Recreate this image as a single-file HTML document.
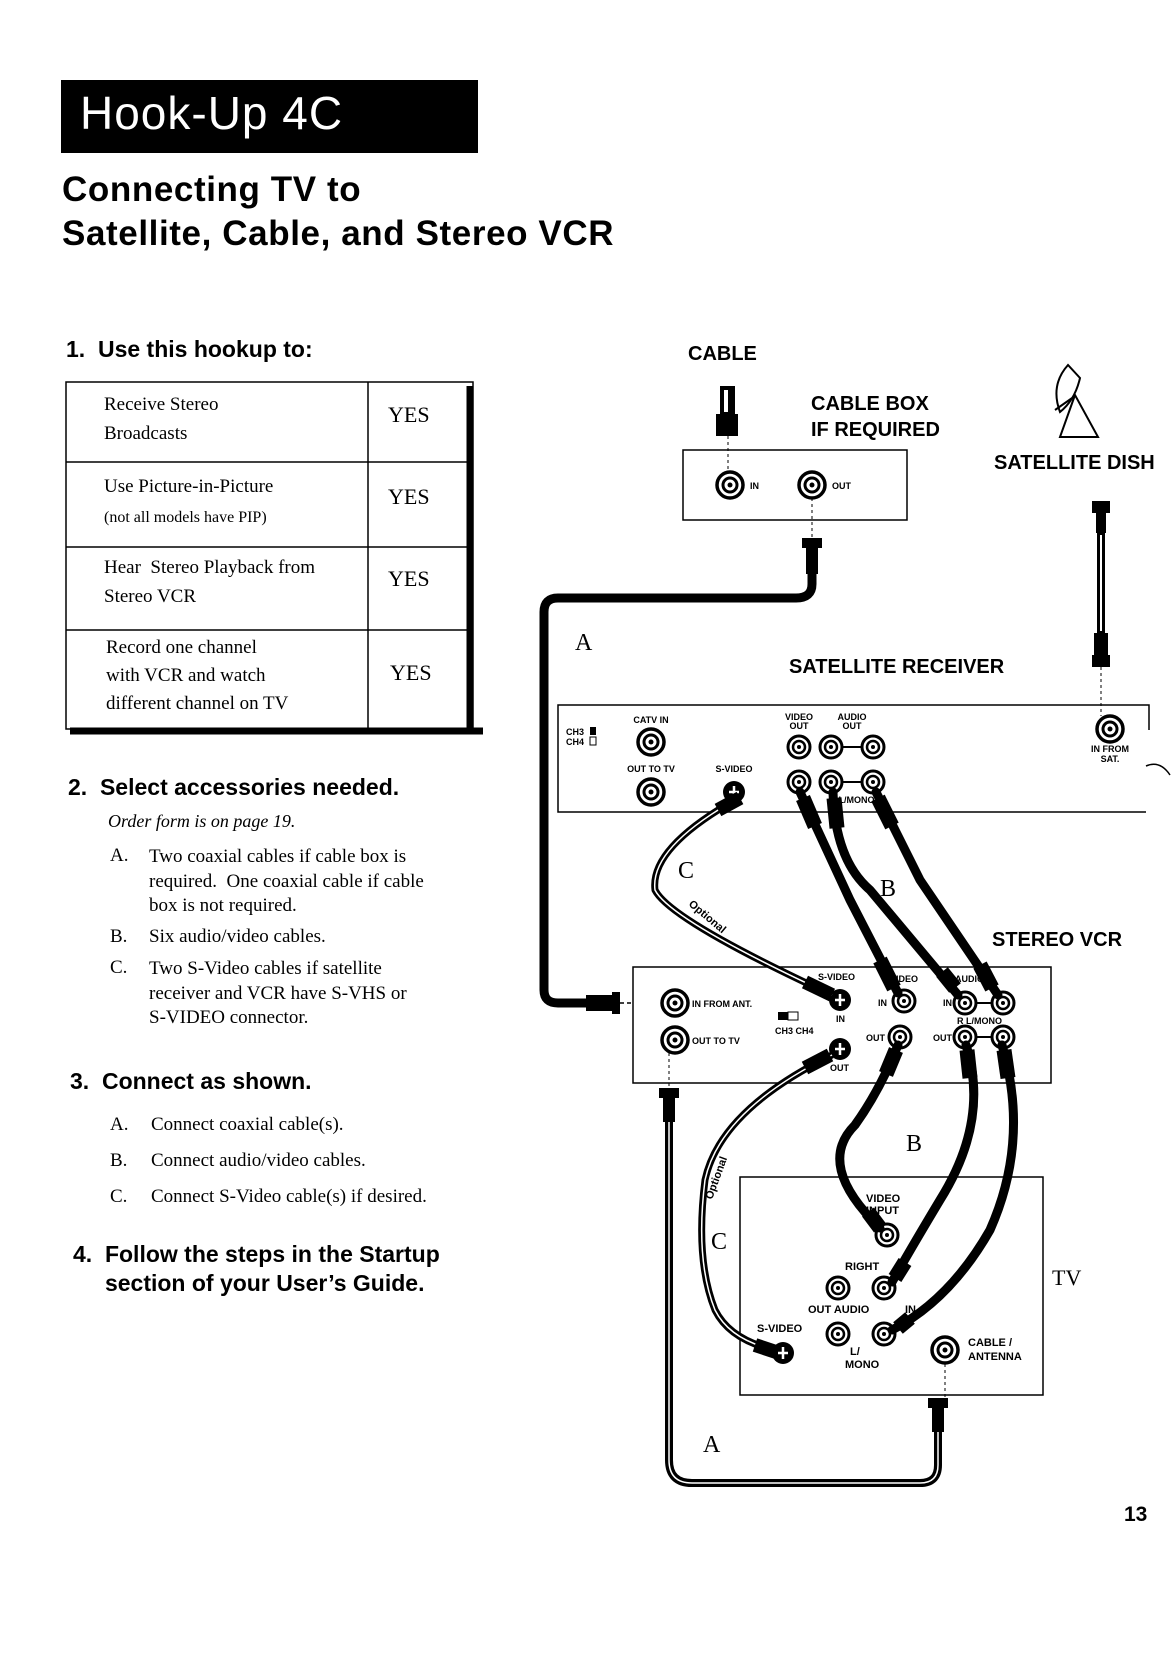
<!DOCTYPE html>
<html><head><meta charset="utf-8"><style>
html,body{margin:0;padding:0;background:#fff}
body{width:1174px;height:1672px;position:relative;overflow:hidden;font-family:"Liberation Sans",sans-serif;color:#000}
.a{position:absolute;white-space:nowrap}
.h{font-weight:bold}
.s{font-family:"Liberation Serif",serif;font-size:19px}
</style></head><body>
<div class="a" style="left:61px;top:80px;width:417px;height:73px;background:#000"></div>
<div class="a" style="left:80px;top:86px;color:#fff;font-size:46px;letter-spacing:1px">Hook-Up 4C</div>
<div class="a h" style="left:62px;top:168px;font-size:35px;line-height:44px;letter-spacing:0.6px">Connecting TV to<br>Satellite, Cable, and Stereo VCR</div>
<div class="a h" style="left:66px;top:336px;font-size:23px">1.&nbsp; Use this hookup to:</div>

<svg class="a" style="left:0;top:0" width="1174" height="1672" viewBox="0 0 1174 1672">
<g fill="none" stroke="#000">
<rect x="66" y="382" width="407" height="347" stroke-width="1.5"/>
<line x1="470" y1="386" x2="470" y2="732" stroke-width="7"/>
<line x1="70" y1="731" x2="483" y2="731" stroke-width="7"/>
<line x1="368" y1="382" x2="368" y2="729" stroke-width="1.5"/>
<line x1="66" y1="462" x2="473" y2="462" stroke-width="1.5"/>
<line x1="66" y1="547" x2="473" y2="547" stroke-width="1.5"/>
<line x1="66" y1="630" x2="473" y2="630" stroke-width="1.5"/>
</g>
</svg>
<div class="a s" style="left:104px;top:390px;line-height:29px">Receive Stereo<br>Broadcasts</div>
<div class="a s" style="left:104px;top:472px;line-height:30px">Use Picture-in-Picture<br><span style="font-size:16px">(not all models have PIP)</span></div>
<div class="a s" style="left:104px;top:553px;line-height:29px">Hear &nbsp;Stereo Playback from<br>Stereo VCR</div>
<div class="a s" style="left:106px;top:634px;line-height:28px">Record one channel<br>with VCR and watch<br>different channel on TV</div>
<div class="a s" style="left:388px;top:402px;font-size:22px">YES</div>
<div class="a s" style="left:388px;top:484px;font-size:22px">YES</div>
<div class="a s" style="left:388px;top:566px;font-size:22px">YES</div>
<div class="a s" style="left:390px;top:660px;font-size:22px">YES</div>

<div class="a h" style="left:68px;top:774px;font-size:23px">2.&nbsp; Select accessories needed.</div>
<div class="a s" style="left:108px;top:811px;font-style:italic;font-size:18px">Order form is on page 19.</div>
<div class="a s" style="left:110px;top:845px">A.</div>
<div class="a s" style="left:110px;top:926px">B.</div>
<div class="a s" style="left:110px;top:957px">C.</div>
<div class="a s" style="left:149px;top:845px;line-height:24.5px">Two coaxial cables if cable box is<br>required. &nbsp;One coaxial cable if cable<br>box is not required.</div>
<div class="a s" style="left:149px;top:926px">Six audio/video cables.</div>
<div class="a s" style="left:149px;top:957px;line-height:24.5px">Two S-Video cables if satellite<br>receiver and VCR have S-VHS or<br>S-VIDEO connector.</div>
<div class="a h" style="left:70px;top:1068px;font-size:23px">3.&nbsp; Connect as shown.</div>
<div class="a s" style="left:110px;top:1107px;line-height:36px">A.<br>B.<br>C.</div>
<div class="a s" style="left:151px;top:1107px;line-height:36px">Connect coaxial cable(s).<br>Connect audio/video cables.<br>Connect S-Video cable(s) if desired.</div>
<div class="a h" style="left:73px;top:1240px;font-size:23px;line-height:29px">4.&nbsp; Follow the steps in the Startup<br>&nbsp;&nbsp;&nbsp;&nbsp;&nbsp;section of your User’s Guide.</div>
<div class="a h" style="left:1124px;top:1503px;font-size:21px">13</div>

<svg class="a" style="left:0;top:0" width="1174" height="1672" viewBox="0 0 1174 1672">
<defs>
<g id="rca"><circle r="11" fill="#fff" stroke="#000" stroke-width="3"/><circle r="6" fill="none" stroke="#000" stroke-width="2.5"/><circle r="2" fill="#000"/></g>
<g id="coax"><circle r="13" fill="#fff" stroke="#000" stroke-width="3.5"/><circle r="7" fill="none" stroke="#000" stroke-width="3"/><circle r="2.5" fill="#000"/></g>
<g id="sv"><circle r="11" fill="#000"/><path d="M0-6V6M-5 0H5" stroke="#fff" stroke-width="2.5"/></g>
</defs>
<g font-family="Liberation Sans,sans-serif" font-weight="bold">
<text x="688" y="360" font-size="20">CABLE</text>
<text x="811" y="410" font-size="20">CABLE BOX</text>
<text x="811" y="436" font-size="20">IF REQUIRED</text>
<text x="994" y="469" font-size="20">SATELLITE DISH</text>
<text x="789" y="673" font-size="20">SATELLITE RECEIVER</text>
<text x="992" y="946" font-size="20">STEREO VCR</text>
<text x="1052" y="1285" font-size="22" font-family="Liberation Serif,serif" font-weight="normal">TV</text>
</g>
<g font-family="Liberation Serif,serif" font-size="24">
<text x="575" y="650">A</text><text x="880" y="896">B</text><text x="678" y="878">C</text>
<text x="906" y="1151">B</text><text x="711" y="1249">C</text><text x="703" y="1452">A</text>
</g>
<!-- cable from wall -->
<rect x="720" y="386" width="15" height="28" fill="#000"/><rect x="724" y="390" width="4" height="22" fill="#fff"/>
<rect x="716" y="414" width="22" height="22" fill="#000"/>
<line x1="728" y1="436" x2="728" y2="470" stroke="#000" stroke-dasharray="3,3"/>
<rect x="683" y="450" width="224" height="70" fill="none" stroke="#000" stroke-width="1.5"/>
<use href="#coax" x="730" y="485"/><use href="#coax" x="812" y="485"/>
<text x="750" y="489" font-size="9" font-weight="bold" font-family="Liberation Sans">IN</text>
<text x="832" y="489" font-size="9" font-weight="bold" font-family="Liberation Sans">OUT</text>
<line x1="812" y1="498" x2="812" y2="538" stroke="#000" stroke-dasharray="3,3"/>
<!-- coax A top -->
<rect x="802" y="538" width="20" height="10" fill="#000"/><rect x="806" y="548" width="12" height="26" fill="#000"/>
<path d="M812 574V584Q812 598 796 598H558Q544 598 544 612V990Q544 1003 558 1003H592" fill="none" stroke="#000" stroke-width="9"/>
<rect x="586" y="995" width="28" height="16" fill="#000"/><rect x="612" y="992" width="8" height="22" fill="#000"/>
<line x1="620" y1="1003" x2="662" y2="1003" stroke="#000" stroke-width="1.5" stroke-dasharray="4,3"/>
<!-- dish -->
<g fill="none" stroke="#000" stroke-width="2"><path d="M1068 365Q1050 385 1060 412Q1075 400 1080 378Z"/><path d="M1075 395L1060 437H1098Z"/><line x1="1055" y1="410" x2="1075" y2="396"/></g>
<!-- sat cable -->
<rect x="1092" y="501" width="18" height="12" fill="#000"/><rect x="1096" y="513" width="10" height="20" fill="#000"/>
<rect x="1097" y="533" width="8" height="100" fill="#000"/><rect x="1100" y="535" width="2" height="96" fill="#fff"/>
<rect x="1094" y="633" width="14" height="22" fill="#000"/><rect x="1092" y="655" width="18" height="12" fill="#000"/>
<line x1="1101" y1="667" x2="1101" y2="716" stroke="#000" stroke-dasharray="3,3"/>
<!-- sat receiver -->
<path d="M1149 730V705H558V812H1146" fill="none" stroke="#000" stroke-width="1.5"/>
<path d="M1146 766Q1160 760 1170 775" fill="none" stroke="#000" stroke-width="1.5"/>
<g font-family="Liberation Sans" font-weight="bold" font-size="9" text-anchor="middle">
<text x="575" y="735">CH3</text><text x="575" y="745">CH4</text>
<text x="651" y="723">CATV IN</text><text x="651" y="772">OUT TO TV</text><text x="734" y="772">S-VIDEO</text>
<text x="799" y="720">VIDEO</text><text x="799" y="729">OUT</text><text x="852" y="720">AUDIO</text><text x="852" y="729">OUT</text>
<text x="852" y="803">R  L/MONO</text>
<text x="1110" y="752">IN FROM</text><text x="1110" y="762">SAT.</text>
</g>
<rect x="590" y="727" width="6" height="8" fill="#000"/><rect x="590" y="737" width="6" height="8" fill="none" stroke="#000"/>
<use href="#coax" x="651" y="742"/><use href="#coax" x="651" y="792"/><use href="#sv" x="734" y="792"/>
<use href="#rca" x="799" y="747"/><use href="#rca" x="799" y="782"/>
<line x1="831" y1="747" x2="873" y2="747" stroke="#000" stroke-width="2"/><line x1="831" y1="782" x2="873" y2="782" stroke="#000" stroke-width="2"/>
<use href="#rca" x="831" y="747"/><use href="#rca" x="873" y="747"/><use href="#rca" x="831" y="782"/><use href="#rca" x="873" y="782"/>
<use href="#coax" x="1110" y="729"/>
<!-- VCR -->
<rect x="633" y="967" width="418" height="116" fill="#fff" stroke="#000" stroke-width="1.5"/>
<g font-family="Liberation Sans" font-weight="bold" font-size="9">
<text x="692" y="1007">IN FROM ANT.</text><text x="692" y="1044">OUT TO TV</text>
<text x="775" y="1034">CH3 CH4</text>
<text x="818" y="980">S-VIDEO</text><text x="836" y="1022">IN</text><text x="830" y="1071">OUT</text>
<text x="890" y="982">VIDEO</text><text x="878" y="1006">IN</text><text x="866" y="1041">OUT</text>
<text x="955" y="982">AUDIO</text><text x="943" y="1006">IN</text><text x="933" y="1041">OUT</text>
<text x="957" y="1024">R  L/MONO</text>
</g>
<rect x="778" y="1012" width="10" height="8" fill="#000"/><rect x="788" y="1012" width="10" height="8" fill="none" stroke="#000"/>
<use href="#coax" x="675" y="1003"/><use href="#coax" x="675" y="1040"/>
<use href="#sv" x="840" y="1000"/><use href="#sv" x="840" y="1049"/>
<use href="#rca" x="904" y="1001"/><use href="#rca" x="900" y="1037"/>
<line x1="965" y1="1003" x2="1003" y2="1003" stroke="#000" stroke-width="2"/><line x1="965" y1="1037" x2="1003" y2="1037" stroke="#000" stroke-width="2"/>
<use href="#rca" x="965" y="1003"/><use href="#rca" x="1003" y="1003"/><use href="#rca" x="965" y="1037"/><use href="#rca" x="1003" y="1037"/>
<line x1="669" y1="1053" x2="669" y2="1088" stroke="#000" stroke-dasharray="3,3"/>
<!-- TV -->
<rect x="740" y="1177" width="303" height="218" fill="#fff" stroke="#000" stroke-width="1.5"/>
<g font-family="Liberation Sans" font-weight="bold" font-size="11">
<text x="866" y="1202">VIDEO</text><text x="866" y="1214">INPUT</text>
<text x="845" y="1270">RIGHT</text><text x="808" y="1313">OUT AUDIO</text><text x="905" y="1313">IN</text>
<text x="757" y="1332">S-VIDEO</text><text x="850" y="1355">L/</text><text x="845" y="1368">MONO</text>
<text x="968" y="1346">CABLE /</text><text x="968" y="1360">ANTENNA</text>
</g>
<use href="#rca" x="887" y="1235"/>
<use href="#rca" x="838" y="1288"/><use href="#rca" x="884" y="1288"/><use href="#rca" x="838" y="1334"/><use href="#rca" x="884" y="1334"/>
<use href="#sv" x="783" y="1353"/><use href="#coax" x="945" y="1350"/>
<line x1="945" y1="1364" x2="945" y2="1398" stroke="#000" stroke-dasharray="3,3"/>
<!-- coax A bottom -->
<rect x="659" y="1088" width="20" height="10" fill="#000"/><rect x="663" y="1098" width="12" height="24" fill="#000"/>
<path d="M669 1122V1460Q669 1483 692 1483H920Q938 1483 938 1465V1432" fill="none" stroke="#000" stroke-width="8"/>
<path d="M669 1122V1460Q669 1483 692 1483H920Q938 1483 938 1465V1432" fill="none" stroke="#fff" stroke-width="1.5"/>
<rect x="928" y="1398" width="20" height="10" fill="#000"/><rect x="932" y="1408" width="12" height="24" fill="#000"/>
<!-- RCA cables B -->
<g fill="none" stroke="#000" stroke-width="9" stroke-linecap="round">
<path d="M800 792L850 900L898 993"/>
<path d="M833 792Q835 860 870 890L958 995"/>
<path d="M876 792L920 880L998 995"/>
<path d="M898 1045Q880 1090 855 1125Q815 1165 880 1228"/>
<path d="M966 1045Q990 1120 940 1200Q910 1250 892 1282"/>
<path d="M1002 1045Q1030 1140 990 1230Q950 1300 892 1330"/>
</g>
<g fill="none" stroke="#000" stroke-width="15" stroke-linecap="butt">
<path d="M803 798L815 826"/><path d="M834 798L837 828"/><path d="M878 798L892 826"/>
<path d="M880 960L894 988"/><path d="M942 972L955 988"/><path d="M980 965L992 988"/>
<path d="M896 1050L886 1074"/><path d="M967 1050L970 1078"/><path d="M1004 1050L1008 1078"/>
<path d="M868 1212L880 1228"/><path d="M905 1262L895 1278"/><path d="M910 1318L898 1328"/>
</g>
<!-- S-video cables C -->
<g fill="none" stroke="#000" stroke-width="7">
<path d="M728 804Q650 850 655 890Q670 920 832 995"/>
<path d="M832 1055Q720 1110 705 1180Q695 1260 715 1310Q730 1340 775 1350"/>
</g>
<g fill="none" stroke="#fff" stroke-width="1.5">
<path d="M728 804Q650 850 655 890Q670 920 832 995"/>
<path d="M832 1055Q720 1110 705 1180Q695 1260 715 1310Q730 1340 775 1350"/>
</g>
<g fill="none" stroke="#000" stroke-width="14">
<path d="M718 810L740 798"/><path d="M805 982L832 995"/><path d="M805 1068L830 1055"/><path d="M755 1345L776 1352"/>
</g>
<g font-family="Liberation Sans" font-weight="bold" font-size="11">
<text transform="translate(688 905) rotate(40)">Optional</text>
<text transform="translate(712 1200) rotate(-70)">Optional</text>
</g>
</svg>
</body></html>
